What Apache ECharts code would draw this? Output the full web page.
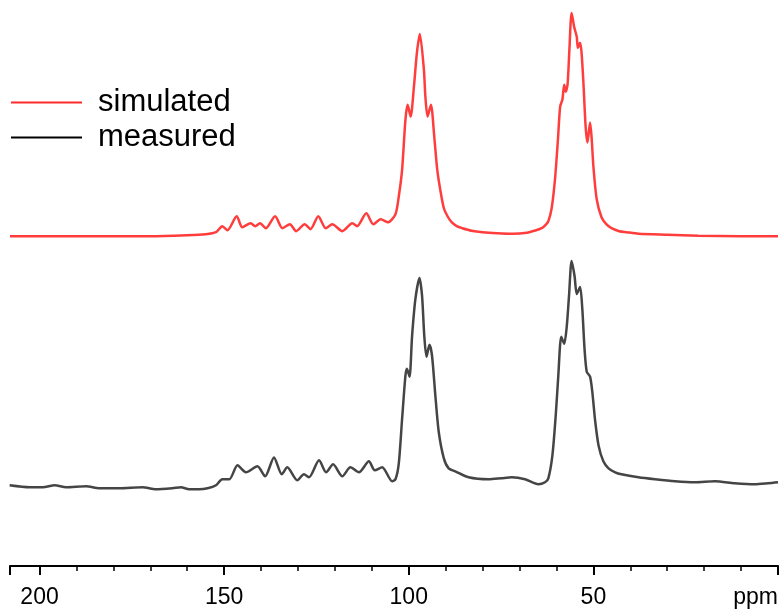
<!DOCTYPE html>
<html>
<head>
<meta charset="utf-8">
<script src="https://cdn.jsdelivr.net/npm/echarts@6/dist/echarts.min.js"></script>
<style>
html,body{margin:0;padding:0;background:#fff;}
#chart{width:781px;height:609px;}
</style>
</head>
<body>
<div id="chart"></div>
<script>
// Chemical shift (ppm) and intensity (arbitrary units)
var simPpm = [208, 190, 170, 160, 155, 152.2, 150.5, 149.1, 146.6, 145.1, 142.8, 141.6, 140.3, 138.7, 136.2, 134.2, 132.2, 130.5, 128.2, 126.6, 124.5, 122.5, 120.7, 118.0, 115.3, 114.0, 111.5, 109.6, 107.6, 105.6, 103.6, 102.7, 101.8, 100.9, 100.3, 99.5, 98.6, 97.8, 97.0, 95.9, 95.5, 94.9, 94.0, 93.1, 92.3, 91.4, 90.5, 89.5, 88.4, 87, 85.5, 83.0, 80, 76, 72, 68, 65.5, 64, 63, 62.2, 61.3, 60.4, 59.6, 59.0, 58.4, 57.9, 57.5, 57.0, 56.5, 55.9, 55.2, 54.5, 54.2, 53.6, 53.2, 52.7, 52.1, 51.6, 50.9, 50.5, 50.0, 49.1, 47.8, 46.5, 45.1, 43, 41, 37.8, 30, 21.6, 10, 0];
var simInt = [0, 0, 0, 1, 2, 4, 10, 6, 20, 9, 13, 10, 13, 8, 20, 8, 12, 5, 12, 7, 20, 8, 12, 5, 13, 10, 23, 12, 17, 14, 22, 40, 67, 117, 132, 120, 150, 184, 203, 167, 140, 120, 132, 100, 67, 45, 28, 20, 14, 10, 8, 5.5, 4, 3, 2.5, 3.5, 6, 8, 11, 15, 28, 57, 97, 130, 137, 152, 145, 152, 187, 224, 210, 200, 189, 194, 184, 154, 110, 94, 114, 100, 70, 37, 19, 12, 8, 5, 4, 2.5, 1.5, 0.5, 0, 0];

var measPpm = [208.1, 202.7, 199.1, 195.9, 192.8, 187.4, 183.8, 178.4, 172.1, 168.5, 164.0, 161.7, 159.5, 156.8, 154.5, 152.2, 150.5, 148.6, 146.4, 144.1, 141.0, 138.9, 136.5, 134.4, 132.9, 130.2, 128.4, 127.0, 124.3, 122.4, 120.5, 118.0, 115.8, 113.5, 110.8, 109.2, 107.2, 104.5, 103.6, 102.7, 101.8, 100.9, 100.5, 99.8, 99.1, 98.2, 97.1, 96.4, 95.8, 95.2, 94.4, 93.7, 92.8, 91.9, 90.5, 89.2, 87.4, 83.8, 78.4, 75, 72.1, 68.5, 64.9, 63.1, 62.2, 61.1, 60.2, 59.5, 58.7, 57.9, 57.2, 56.6, 55.9, 55.1, 54.5, 53.6, 53.0, 52.4, 51.8, 50.9, 50.3, 49.5, 48.6, 47.3, 45.9, 44.1, 42.4, 37.8, 33.3, 27.9, 22.5, 17.1, 11.7, 6.3, 2.7, 0];
var measInt = [0, -2, -2, 0, -2, -1, -3, -3, -2, -4, -3, -2, -4, -4, -3, 0, 6, 6, 20, 13, 19, 9, 28, 11, 18, 5, 11, 8, 25, 13, 21, 9, 18, 13, 24, 15, 18, 4, 6, 22, 67, 110, 117, 109, 150, 187, 208, 190, 150, 129, 141, 130, 90, 54, 27, 17, 14, 8, 6, 7, 8, 6, 1, 3, 7, 30, 70, 110, 149, 142, 160, 190, 225, 210, 192, 199, 177, 137, 114, 109, 94, 64, 40, 24, 17, 13, 11, 8, 6, 4, 3, 4, 2, 1, 2, 3];

var seriesNames = ['simulated', 'measured'];
var tickLabels = {0: 'ppm', 50: '50', 100: '100', 150: '150', 200: '200'};

// vertical stacking offsets of the two traces (presentation)
var simOffset = 331, measOffset = 81;

function build(xs, ys, off) {
  var out = [];
  for (var i = 0; i < xs.length; i++) out.push([xs[i], ys[i] + off]);
  return out;
}

var FONT = '"Liberation Sans", Arial, sans-serif';
var chart = echarts.init(document.getElementById('chart'), null, {renderer: 'canvas'});
chart.setOption({
  animation: false,
  backgroundColor: '#fff',
  grid: {left: 10, right: 2, top: 0, bottom: 41, containLabel: false},
  legend: {
    orient: 'vertical', left: 6, top: 82,
    icon: 'rect', itemWidth: 71, itemHeight: 2, itemGap: 4,
    selectedMode: false,
    textStyle: {fontSize: 31, color: '#000', fontFamily: FONT, lineHeight: 30, padding: [0, 0, 0, 11]},
    data: [
      {name: seriesNames[0], itemStyle: {color: '#ff2a2a'}},
      {name: seriesNames[1], itemStyle: {color: '#000000'}}
    ]
  },
  xAxis: {
    type: 'value', inverse: true, min: 0, max: 208, interval: 50,
    axisLine: {show: true, onZero: false, lineStyle: {color: '#000', width: 2}},
    axisTick: {show: true, length: 9, lineStyle: {color: '#000', width: 2}},
    minorTick: {show: true, splitNumber: 5, length: 5, lineStyle: {color: '#000', width: 1.5}},
    splitLine: {show: false},
    axisLabel: {
      show: true, margin: 20, fontSize: 23, color: '#000', fontFamily: FONT,
      showMinLabel: true, showMaxLabel: false, alignMinLabel: 'right',
      formatter: function (v) { return tickLabels[v] !== undefined ? tickLabels[v] : ''; }
    }
  },
  yAxis: {type: 'value', min: 0, max: 568, show: false},
  series: [
    {
      name: seriesNames[0], type: 'line', showSymbol: false, smooth: 0.25,
      data: build(simPpm, simInt, simOffset),
      lineStyle: {color: '#ff3d3d', width: 2.5},
      itemStyle: {color: '#ff3d3d'}
    },
    {
      name: seriesNames[1], type: 'line', showSymbol: false, smooth: 0.25,
      data: build(measPpm, measInt, measOffset),
      lineStyle: {color: '#454545', width: 2.5},
      itemStyle: {color: '#454545'}
    }
  ]
});
</script>
</body>
</html>
